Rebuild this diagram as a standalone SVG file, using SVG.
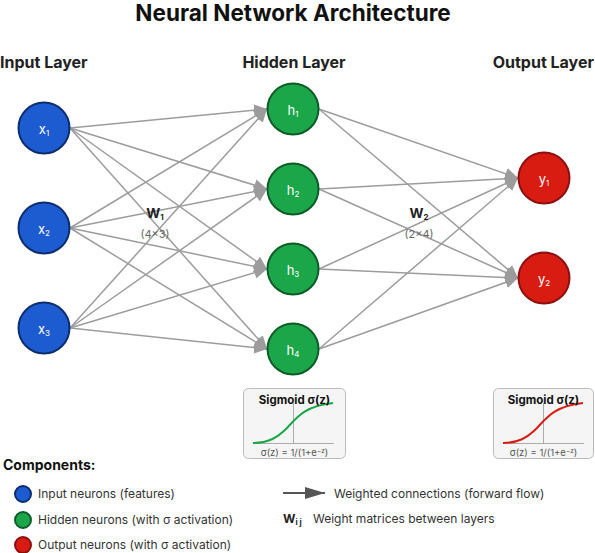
<svg xmlns="http://www.w3.org/2000/svg" width="595" height="553" viewBox="0 0 595 553">
<defs>
<marker id="ah" markerUnits="userSpaceOnUse" markerWidth="14" markerHeight="12" refX="13" refY="6" orient="auto">
<path d="M0,0 L13,6 L0,12 z" fill="#9c9c9c"/>
</marker>
<marker id="ahl" markerUnits="userSpaceOnUse" markerWidth="22" markerHeight="12" refX="20" refY="6" orient="auto">
<path d="M0,0 L20,6 L0,12 z" fill="#555"/>
</marker>
<style>
text{font-family:Inter,"Liberation Sans",Arial,sans-serif}
.title{font-size:22.5px;font-weight:700;fill:#111}
.layer{font-size:16px;font-weight:700;fill:#222}
.nl{font-size:13px;fill:#fff}
.sub{font-size:8px}
.conn line{stroke:#9c9c9c;stroke-width:1.5;marker-end:url(#ah)}
.in{fill:#1d5bd0;stroke:#0c2d6e;stroke-width:2}
.hid{fill:#1ba64a;stroke:#0d5c26;stroke-width:2}
.out{fill:#d91c12;stroke:#8c1010;stroke-width:2}
.wl{font-size:13.5px;font-weight:700;fill:#222}
.wd{font-size:11px;fill:#666}
.sbox{fill:#f5f5f5;stroke:#bbb;stroke-width:1}
.st{font-size:11.5px;font-weight:700;fill:#111}
.ax{stroke:#999;stroke-width:0.8}
.fx{font-size:9.5px;fill:#555}
.lg{font-size:12px;fill:#333}
</style>
</defs>
<rect width="595" height="553" fill="#fff"/>
<text class="title" x="293" y="21" text-anchor="middle">Neural Network Architecture</text>
<text class="layer" x="0" y="68">Input Layer</text>
<text class="layer" x="294" y="68" text-anchor="middle">Hidden Layer</text>
<text class="layer" x="594" y="68" text-anchor="end">Output Layer</text>

<g id="connectors" class="conn">
<line x1="70" y1="128" x2="267" y2="109"/>
<line x1="70" y1="128" x2="267" y2="189"/>
<line x1="70" y1="128" x2="267" y2="269"/>
<line x1="70" y1="128" x2="267" y2="349"/>
<line x1="70" y1="228" x2="267" y2="109"/>
<line x1="70" y1="228" x2="267" y2="189"/>
<line x1="70" y1="228" x2="267" y2="269"/>
<line x1="70" y1="228" x2="267" y2="349"/>
<line x1="70" y1="328" x2="267" y2="109"/>
<line x1="70" y1="328" x2="267" y2="189"/>
<line x1="70" y1="328" x2="267" y2="269"/>
<line x1="70" y1="328" x2="267" y2="349"/>
<line x1="319" y1="109" x2="518" y2="178"/>
<line x1="319" y1="109" x2="518" y2="278"/>
<line x1="319" y1="189" x2="518" y2="178"/>
<line x1="319" y1="189" x2="518" y2="278"/>
<line x1="319" y1="269" x2="518" y2="178"/>
<line x1="319" y1="269" x2="518" y2="278"/>
<line x1="319" y1="349" x2="518" y2="178"/>
<line x1="319" y1="349" x2="518" y2="278"/>
</g>

<g id="x1"><circle class="in" cx="44" cy="128" r="25.5"/><text class="nl" x="44" y="134" text-anchor="middle">x<tspan class="sub" dy="2">1</tspan></text></g>
<g id="x2"><circle class="in" cx="44" cy="228" r="25.5"/><text class="nl" x="44" y="234" text-anchor="middle">x<tspan class="sub" dy="2">2</tspan></text></g>
<g id="x3"><circle class="in" cx="44" cy="328" r="25.5"/><text class="nl" x="44" y="334" text-anchor="middle">x<tspan class="sub" dy="2">3</tspan></text></g>

<g id="h1"><circle class="hid" cx="293" cy="109" r="25.5"/><text class="nl" x="293" y="115" text-anchor="middle">h<tspan class="sub" dy="2">1</tspan></text></g>
<g id="h2"><circle class="hid" cx="293" cy="189" r="25.5"/><text class="nl" x="293" y="195" text-anchor="middle">h<tspan class="sub" dy="2">2</tspan></text></g>
<g id="h3"><circle class="hid" cx="293" cy="269" r="25.5"/><text class="nl" x="293" y="275" text-anchor="middle">h<tspan class="sub" dy="2">3</tspan></text></g>
<g id="h4"><circle class="hid" cx="293" cy="349" r="25.5"/><text class="nl" x="293" y="355" text-anchor="middle">h<tspan class="sub" dy="2">4</tspan></text></g>

<g id="y1"><circle class="out" cx="544" cy="178" r="25.5"/><text class="nl" x="544" y="184" text-anchor="middle">y<tspan class="sub" dy="2">1</tspan></text></g>
<g id="y2"><circle class="out" cx="544" cy="278" r="25.5"/><text class="nl" x="544" y="284" text-anchor="middle">y<tspan class="sub" dy="2">2</tspan></text></g>

<g id="w1">
<text class="wl" x="155" y="218" text-anchor="middle">W<tspan class="sub" dy="2">1</tspan></text>
<text class="wd" x="155" y="238" text-anchor="middle">(4×3)</text>
</g>
<g id="w2">
<text class="wl" x="419" y="218" text-anchor="middle">W<tspan class="sub" dy="2">2</tspan></text>
<text class="wd" x="419" y="238" text-anchor="middle">(2×4)</text>
</g>

<g id="sigmoid-hidden">
<rect class="sbox" x="243.5" y="388.5" width="102" height="70" rx="5"/>
<line class="ax" x1="293.5" y1="403" x2="293.5" y2="443.5"/>
<line class="ax" x1="253" y1="443.5" x2="334" y2="443.5"/>
<path d="M253,443 C268,443 277,438 287,428 C297,417 305,406 333,403" fill="none" stroke="#1ba64a" stroke-width="2"/>
<text class="st" x="294.5" y="404" text-anchor="middle">Sigmoid σ(z)</text>
<text class="fx" x="294.5" y="456" text-anchor="middle">σ(z) = 1/(1+e<tspan font-size="6.5" dy="-3.5">−z</tspan><tspan dy="3.5">)</tspan></text>
</g>
<g id="sigmoid-output">
<rect class="sbox" x="493.5" y="388.5" width="100" height="70" rx="5"/>
<line class="ax" x1="543.5" y1="403" x2="543.5" y2="443.5"/>
<line class="ax" x1="503" y1="443.5" x2="584" y2="443.5"/>
<path d="M503,443 C518,443 527,438 537,428 C547,417 555,406 583,403" fill="none" stroke="#d91c12" stroke-width="2"/>
<text class="st" x="543.5" y="404" text-anchor="middle">Sigmoid σ(z)</text>
<text class="fx" x="543.5" y="456" text-anchor="middle">σ(z) = 1/(1+e<tspan font-size="6.5" dy="-3.5">−z</tspan><tspan dy="3.5">)</tspan></text>
</g>

<g id="legend">
<text x="3" y="470" font-size="14" font-weight="700" fill="#111">Components:</text>
<circle class="in" cx="23" cy="494" r="8"/>
<text class="lg" x="38" y="498">Input neurons (features)</text>
<circle class="hid" cx="23" cy="520" r="8"/>
<text class="lg" x="38" y="524">Hidden neurons (with σ activation)</text>
<circle class="out" cx="23" cy="545" r="8"/>
<text class="lg" x="38" y="549">Output neurons (with σ activation)</text>
<line x1="283" y1="493" x2="325" y2="493" stroke="#555" stroke-width="2" marker-end="url(#ahl)"/>
<text class="lg" x="334" y="498">Weighted connections (forward flow)</text>
<text x="283" y="523" font-size="12" font-weight="700" fill="#222">W<tspan font-size="8" dy="2">i j</tspan></text>
<text class="lg" x="313" y="523">Weight matrices between layers</text>
</g>
</svg>
